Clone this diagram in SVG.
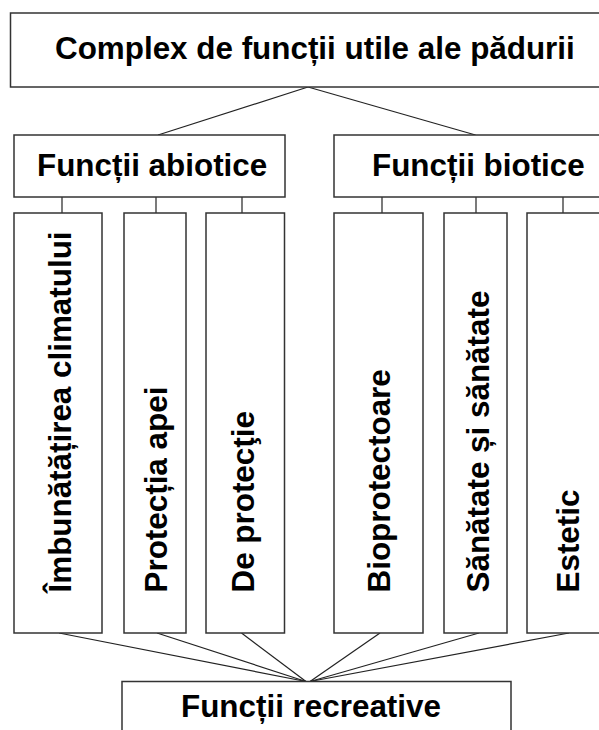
<svg xmlns="http://www.w3.org/2000/svg" width="599" height="730" viewBox="0 0 599 730">
<style>
.box{fill:#fff;stroke:#333;stroke-width:1.5}
.lbl{font-family:"Liberation Sans",Arial,sans-serif;font-weight:bold;font-size:31.4px;fill:#000}
.con{stroke:#222;stroke-width:1.2;fill:none}
</style>
<rect width="599" height="730" fill="#fff"/>
<g id="connectors">
<line class="con" x1="308" y1="87" x2="158" y2="135"/>
<line class="con" x1="308" y1="87" x2="475.5" y2="135"/>
<line class="con" x1="62" y1="197" x2="62" y2="213"/>
<line class="con" x1="156" y1="197" x2="156" y2="213"/>
<line class="con" x1="242" y1="197" x2="242" y2="213"/>
<line class="con" x1="382" y1="197" x2="382" y2="213"/>
<line class="con" x1="476" y1="197" x2="476" y2="213"/>
<line class="con" x1="563" y1="197" x2="563" y2="213"/>
<line class="con" x1="59" y1="633" x2="306" y2="681.5"/>
<line class="con" x1="157" y1="633" x2="306" y2="681.5"/>
<line class="con" x1="241.5" y1="633" x2="306" y2="681.5"/>
<line class="con" x1="380" y1="633" x2="310" y2="681.5"/>
<line class="con" x1="479" y1="633" x2="310" y2="681.5"/>
<line class="con" x1="569" y1="633" x2="310" y2="681.5"/>
</g>
<g id="top">
<rect class="box" x="10.5" y="13" width="620" height="74"/>
<text class="lbl" x="55" y="58.5">Complex de funcții utile ale pădurii</text>
</g>
<g id="abiotice">
<rect class="box" x="14" y="135" width="271" height="62"/>
<text class="lbl" x="37" y="176">Funcții abiotice</text>
</g>
<g id="biotice">
<rect class="box" x="334" y="135" width="300" height="62"/>
<text class="lbl" x="372" y="176">Funcții biotice</text>
</g>
<g id="climat">
<rect class="box" x="14" y="213" width="88" height="420"/>
<text class="lbl" transform="translate(70.5,592.5) rotate(-90)">Îmbunătățirea climatului</text>
</g>
<g id="apa">
<rect class="box" x="124" y="213" width="62" height="420"/>
<text class="lbl" transform="translate(166.5,592.5) rotate(-90)">Protecția apei</text>
</g>
<g id="protectie">
<rect class="box" x="206" y="213" width="78.5" height="420"/>
<text class="lbl" transform="translate(254,592.5) rotate(-90)">De protecţie</text>
</g>
<g id="bioprotectoare">
<rect class="box" x="334" y="213" width="89" height="420"/>
<text class="lbl" transform="translate(389.5,592.5) rotate(-90)">Bioprotectoare</text>
</g>
<g id="sanatate">
<rect class="box" x="444" y="213" width="63" height="420"/>
<text class="lbl" transform="translate(489,592.5) rotate(-90)">Sănătate și sănătate</text>
</g>
<g id="estetic">
<rect class="box" x="527" y="213" width="120" height="420"/>
<text class="lbl" transform="translate(578.5,592.5) rotate(-90)">Estetic</text>
</g>
<g id="recreative">
<rect class="box" x="122" y="681.5" width="389" height="100"/>
<text class="lbl" x="181" y="716.5">Funcții recreative</text>
</g>
</svg>
